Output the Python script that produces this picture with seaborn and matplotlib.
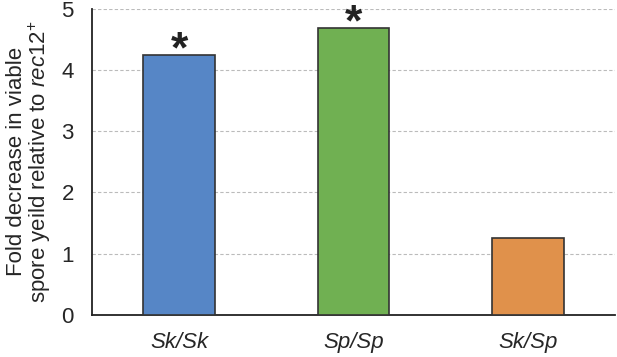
import matplotlib
matplotlib.use("Agg")
import matplotlib.pyplot as plt
import seaborn as sns
import pandas as pd

genotypes = ["Sk/Sk", "Sp/Sp", "Sk/Sp"]
fold_decrease = [4.25, 4.69, 1.26]
significant = [True, True, False]
bar_colors = ["#5686C6", "#70B052", "#E0914B"]

sns.set_style("white")
plt.rcParams["font.family"] = ["Liberation Sans", "DejaVu Sans"]
plt.rcParams["mathtext.fontset"] = "custom"
plt.rcParams["mathtext.rm"] = "Liberation Sans"
plt.rcParams["mathtext.it"] = "Liberation Sans:italic"

df = pd.DataFrame({"genotype": genotypes, "value": fold_decrease})

fig, ax = plt.subplots(figsize=(6.17, 3.57), dpi=100)
fig.subplots_adjust(left=0.149, right=0.997, top=0.975, bottom=0.118)

sns.barplot(data=df, x="genotype", y="value", hue="genotype", palette=bar_colors,
            saturation=1, width=0.41, edgecolor="#333333", linewidth=1.2,
            legend=False, ax=ax, zorder=3)

# significance stars
for i, (v, sig) in enumerate(zip(fold_decrease, significant)):
    if sig:
        ax.text(i, v + 0.07, "*", ha="center", va="center", fontsize=32,
                fontweight="bold", color="#222222", clip_on=False)

ax.set_ylim(0, 5)
ax.set_xlim(-0.5, 2.5)
ax.set_yticks([0, 1, 2, 3, 4, 5])
ax.yaxis.grid(True, linestyle=(0, (3, 2)), color="#BBBBBB", linewidth=0.8, zorder=0)
ax.set_axisbelow(True)

for s in ["top", "right"]:
    ax.spines[s].set_visible(False)
for s in ["left", "bottom"]:
    ax.spines[s].set_color("#222222")
    ax.spines[s].set_linewidth(1.3)

ax.tick_params(axis="y", labelsize=16, length=0, pad=13)
ax.tick_params(axis="x", labelsize=16, length=0, pad=12)
for lab in ax.get_xticklabels():
    lab.set_fontstyle("italic")

ax.set_xlabel("")
ax.set_ylabel("Fold decrease in viable\nspore yeild relative to $\\mathit{rec12}^{+}$",
              fontsize=16, linespacing=1.0, labelpad=6)

plt.savefig("out.png", dpi=100)
plt.close()
